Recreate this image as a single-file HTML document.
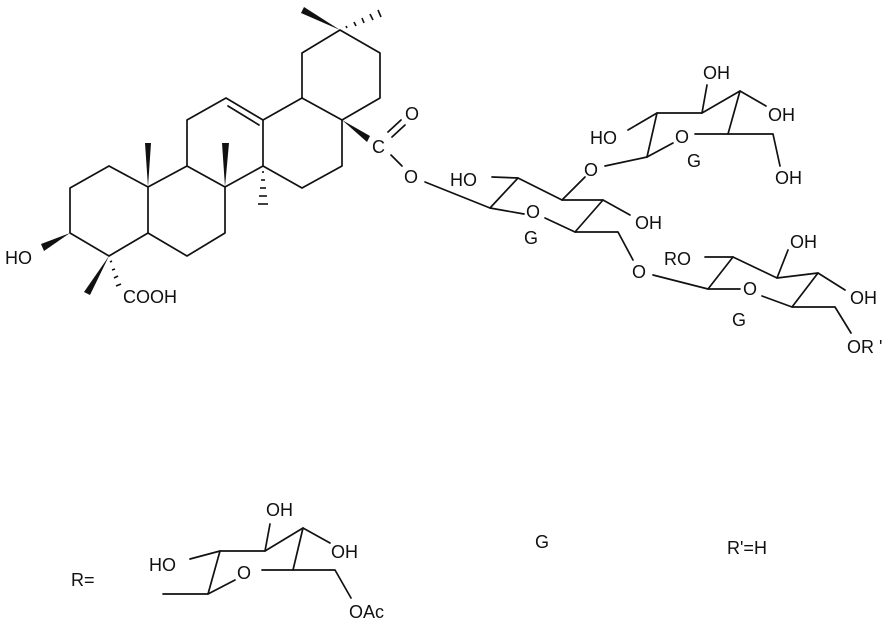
<!DOCTYPE html>
<html><head><meta charset="utf-8"><style>
html,body{margin:0;padding:0;background:#fff;}
svg{display:block;}
text{font-family:"Liberation Sans",sans-serif;font-size:18px;fill:#111;dominant-baseline:central;}
</style></head><body>
<svg width="892" height="625" viewBox="0 0 892 625" xmlns="http://www.w3.org/2000/svg">
<g stroke="#111" stroke-width="1.7" fill="none" stroke-linecap="round" stroke-linejoin="round">
<polyline points="109,166 148,187 148,233 109,256 70,233 70,188 109,166"/>
<polyline points="148,187 187,166 225,187 225,233 187,256 148,233"/>
<polyline points="187,166 187,120 226,98 263,120 263,166 225,187"/>
<line x1="228" y1="106" x2="259" y2="125"/>
<polyline points="263,120 302,98 342,120 342,166 302,188 263,166"/>
<polyline points="302,98 302,53 340,30 380,53 380,98 342,120"/>
<line x1="388" y1="132" x2="401" y2="120"/>
<line x1="392" y1="137" x2="405" y2="125"/>
<line x1="391" y1="155" x2="402" y2="166"/>
<line x1="425" y1="182" x2="490" y2="208"/>
<polyline points="524,214 490,208 518,178 562,200 603,200 575,232 618,232 633,260"/>
<line x1="545" y1="218" x2="575" y2="232"/>
<line x1="492" y1="177" x2="518" y2="178"/>
<line x1="603" y1="200" x2="630" y2="215"/>
<line x1="562" y1="200" x2="585" y2="177"/>
<line x1="605" y1="166" x2="647" y2="157"/>
<polyline points="647,157 657,113 702,113 740,91 728,134 773,134 780,166"/>
<line x1="647" y1="157" x2="673" y2="143"/>
<line x1="695" y1="134" x2="728" y2="134"/>
<line x1="628" y1="130" x2="657" y2="113"/>
<line x1="702" y1="113" x2="707" y2="85"/>
<line x1="740" y1="91" x2="766" y2="106"/>
<line x1="653" y1="275" x2="708" y2="289"/>
<polyline points="740,289 708,289 733,257 777,278 818,273 792,307 835,307 851,333"/>
<line x1="762" y1="296" x2="792" y2="307"/>
<line x1="705" y1="257" x2="733" y2="257"/>
<line x1="777" y1="278" x2="788" y2="250"/>
<line x1="818" y1="273" x2="845" y2="290"/>
<polyline points="163,594 208,594 220,551 265,551 303,528 293,570 335,570 351,598"/>
<line x1="208" y1="594" x2="235" y2="580"/>
<line x1="262" y1="570" x2="293" y2="570"/>
<line x1="190" y1="559" x2="220" y2="551"/>
<line x1="265" y1="551" x2="270" y2="524"/>
<line x1="303" y1="528" x2="330" y2="543"/>
</g>
<g fill="#111">
<polygon points="148,187 145,143 151,143"/>
<polygon points="225,187 222,143 229,143"/>
<polygon points="70,233 44,251 41,244"/>
<polygon points="109,256 84,292 90,295"/>
<polygon points="340,30 301,13 304,7"/>
<polygon points="342,120 370,136 367,142"/>
</g>
<g stroke="#111" stroke-width="1.6">
<line x1="262" y1="172" x2="264" y2="172"/>
<line x1="261" y1="180" x2="265" y2="180"/>
<line x1="260" y1="188" x2="266" y2="188"/>
<line x1="259" y1="196" x2="267" y2="196"/>
<line x1="258" y1="204" x2="268" y2="204"/>
<line x1="110" y1="262" x2="112" y2="261"/>
<line x1="112" y1="270" x2="115" y2="269"/>
<line x1="114" y1="278" x2="118" y2="276"/>
<line x1="116" y1="286" x2="121" y2="284"/>
<line x1="346" y1="26" x2="347" y2="28"/>
<line x1="354" y1="22" x2="356" y2="26"/>
<line x1="362" y1="18" x2="364" y2="23"/>
<line x1="370" y1="14" x2="373" y2="20"/>
<line x1="378" y1="10" x2="381" y2="17"/>
</g>
<text x="5" y="258">HO</text>
<text x="123" y="297">COOH</text>
<text x="372" y="147">C</text>
<text x="405" y="114">O</text>
<text x="404" y="177">O</text>
<text x="450" y="180">HO</text>
<text x="526" y="212">O</text>
<text x="524" y="238">G</text>
<text x="635" y="223">OH</text>
<text x="584" y="170">O</text>
<text x="590" y="138">HO</text>
<text x="675" y="137">O</text>
<text x="687" y="161">G</text>
<text x="703" y="73">OH</text>
<text x="768" y="115">OH</text>
<text x="775" y="178">OH</text>
<text x="632" y="272">O</text>
<text x="664" y="259">RO</text>
<text x="743" y="289">O</text>
<text x="732" y="320">G</text>
<text x="790" y="242">OH</text>
<text x="850" y="298">OH</text>
<text x="847" y="347">OR '</text>
<text x="71" y="580">R=</text>
<text x="149" y="565">HO</text>
<text x="237" y="573">O</text>
<text x="266" y="510">OH</text>
<text x="331" y="552">OH</text>
<text x="349" y="612">OAc</text>
<text x="535" y="542">G</text>
<text x="727" y="548">R'=H</text>
</svg>
</body></html>
